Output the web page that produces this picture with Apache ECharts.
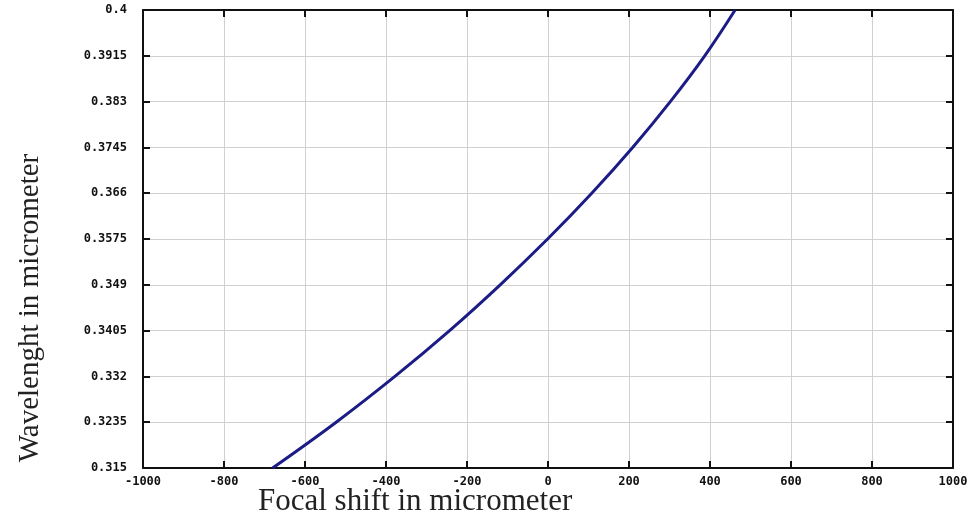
<!DOCTYPE html>
<html>
<head>
<meta charset="utf-8">
<script src="https://cdn.jsdelivr.net/npm/echarts@6/dist/echarts.min.js"></script>
<style>
html,body{margin:0;padding:0;background:#fff;}
#chart{width:975px;height:518px;}
</style>
</head>
<body>
<div id="chart"></div>
<script>
// Focal shift (micrometer) at each wavelength gridline
var focalShift = [-680, -523, -378, -243, -118, -1, 108, 209, 302, 387, 462];
// Wavelength (micrometer)
var wavelength = [0.315, 0.3235, 0.332, 0.3405, 0.349, 0.3575, 0.366, 0.3745, 0.383, 0.3915, 0.4];
var xTicks = [-1000, -800, -600, -400, -200, 0, 200, 400, 600, 800, 1000];
var yTicks = [0.315, 0.3235, 0.332, 0.3405, 0.349, 0.3575, 0.366, 0.3745, 0.383, 0.3915, 0.4];
var xTitle = 'Focal shift in micrometer';
var yTitle = 'Wavelenght in micrometer';

var points = focalShift.map(function (x, i) { return [x, wavelength[i]]; });

var labelFont = {color: '#111', fontFamily: 'DejaVu Sans Mono', fontWeight: 'bold', fontSize: 12};
var axisLineStyle = {color: '#111', width: 2};
var gridStyle = {color: '#d0d0d0', width: 1};

var chart = echarts.init(document.getElementById('chart'), null, {renderer: 'canvas'});
chart.setOption({
  animation: false,
  backgroundColor: '#fff',
  grid: {left: 143, right: 22, top: 10, bottom: 50, containLabel: false},
  xAxis: [{
    type: 'value', position: 'bottom',
    min: xTicks[0], max: xTicks[xTicks.length - 1], interval: 200,
    axisLine: {show: true, onZero: false, lineStyle: axisLineStyle},
    axisTick: {show: true, inside: true, length: 7, lineStyle: {color: '#111', width: 2}},
    axisLabel: Object.assign({margin: 8, formatter: function (v) { return String(v); }}, labelFont),
    splitLine: {show: true, lineStyle: gridStyle}
  }, {
    type: 'value', position: 'top',
    min: xTicks[0], max: xTicks[xTicks.length - 1], interval: 200,
    axisLine: {show: true, onZero: false, lineStyle: axisLineStyle},
    axisTick: {show: true, inside: true, length: 7, lineStyle: {color: '#111', width: 2}},
    axisLabel: {show: false},
    splitLine: {show: false}
  }],
  yAxis: [{
    type: 'value', position: 'left',
    min: yTicks[0], max: yTicks[yTicks.length - 1], interval: 0.0085,
    axisLine: {show: true, onZero: false, lineStyle: axisLineStyle},
    axisTick: {show: true, inside: true, length: 7, lineStyle: {color: '#111', width: 2}},
    axisLabel: Object.assign({margin: 16, formatter: function (v) { return String(parseFloat(v.toFixed(4))); }}, labelFont),
    splitLine: {show: true, lineStyle: gridStyle}
  }, {
    type: 'value', position: 'right',
    min: yTicks[0], max: yTicks[yTicks.length - 1], interval: 0.0085,
    axisLine: {show: true, onZero: false, lineStyle: axisLineStyle},
    axisTick: {show: true, inside: true, length: 7, lineStyle: {color: '#111', width: 2}},
    axisLabel: {show: false},
    splitLine: {show: false}
  }],
  graphic: [{
    type: 'text', left: 258, top: 486,
    style: {text: xTitle, font: '31px "Liberation Serif"', fill: '#222'}
  }, {
    type: 'text', x: 30, y: 308, rotation: Math.PI / 2,
    style: {text: yTitle, font: '29px "Liberation Serif"', fill: '#222', textAlign: 'center', textVerticalAlign: 'middle'}
  }],
  series: [{
    type: 'line', xAxisIndex: 0, yAxisIndex: 0,
    data: points, smooth: 0.4, showSymbol: false, clip: true,
    lineStyle: {color: '#1c1c86', width: 3}
  }]
});
</script>
</body>
</html>
